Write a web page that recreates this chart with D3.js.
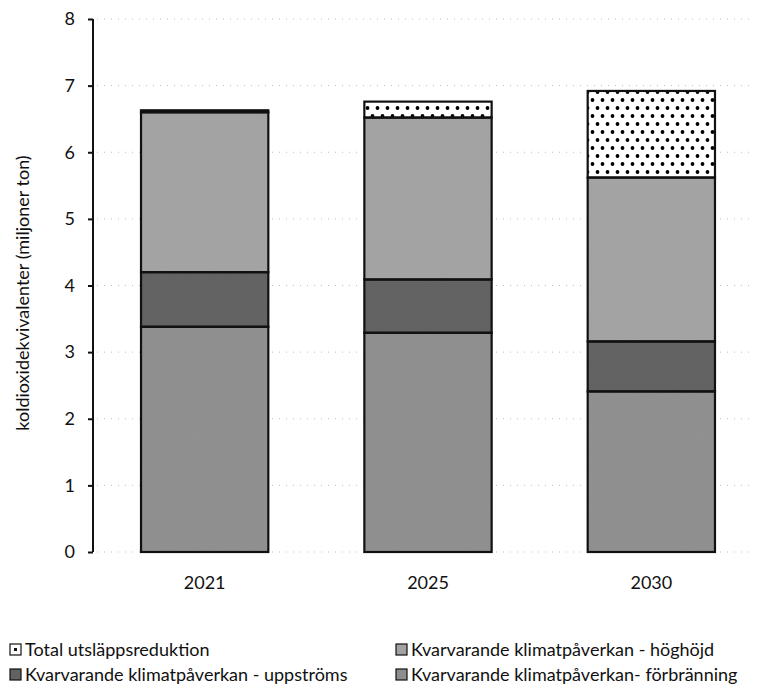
<!DOCTYPE html>
<html>
<head>
<meta charset="utf-8">
<script src="https://cdn.jsdelivr.net/npm/d3@7"></script>
<style>
  body { margin: 0; background: #fff; }
  text { font-family: Lato, "Noto Sans", sans-serif; fill: #111; }
</style>
</head>
<body>
<div id="chart"></div>
<script>
// data (miljoner ton CO2e)
var years = ['2021', '2025', '2030'];
var forbranning = [3.38, 3.29, 2.41];
var uppstroms = [0.82, 0.80, 0.75];
var hoghojd = [2.40, 2.43, 2.46];
var reduktion = [0.03, 0.24, 1.30];
var yTicks = [0, 1, 2, 3, 4, 5, 6, 7, 8];

// stacking order bottom -> top
var keys = ['forbranning', 'uppstroms', 'hoghojd', 'reduktion'];
var fills = {
  forbranning: '#8e8e8e',
  uppstroms: '#626262',
  hoghojd: '#a2a2a2',
  reduktion: 'url(#dots)'
};
var legendItems = [ // [key, label, col, row]
  ['reduktion', 'Total utsläppsreduktion', 0, 0],
  ['hoghojd', 'Kvarvarande klimatpåverkan - höghöjd', 1, 0],
  ['uppstroms', 'Kvarvarande klimatpåverkan - uppströms', 0, 1],
  ['forbranning', 'Kvarvarande klimatpåverkan- förbränning', 1, 1]
];

var rows = years.map(function (y, i) {
  return { year: y, forbranning: forbranning[i], uppstroms: uppstroms[i], hoghojd: hoghojd[i], reduktion: reduktion[i] };
});

var W = 760, H = 691;
var x0 = 93, x1 = 763, yTop = 19, yBottom = 552;

var svg = d3.select('#chart').append('svg')
  .attr('width', W).attr('height', H);

var defs = svg.append('defs');
var pat = defs.append('pattern')
  .attr('id', 'dots').attr('patternUnits', 'userSpaceOnUse')
  .attr('width', 10).attr('height', 16);
pat.append('rect').attr('width', 10).attr('height', 16).attr('fill', '#fff');
pat.append('circle').attr('cx', 2.5).attr('cy', 4).attr('r', 1.9).attr('fill', '#000');
pat.append('circle').attr('cx', 7.5).attr('cy', 12).attr('r', 1.9).attr('fill', '#000');

// scan grain on the grey fills
var grain = defs.append('filter').attr('id', 'grain')
  .attr('x', 0).attr('y', 0).attr('width', 1).attr('height', 1);
grain.append('feTurbulence').attr('type', 'fractalNoise')
  .attr('baseFrequency', 0.95).attr('numOctaves', 1).attr('seed', 3).attr('result', 'noise');
grain.append('feColorMatrix').attr('in', 'noise').attr('type', 'matrix')
  .attr('values', '0 0 0 0 0.55  0 0 0 0 0.55  0 0 0 0 0.55  0.9 0 0 0 -0.25')
  .attr('result', 'speck');
grain.append('feComposite').attr('in', 'speck').attr('in2', 'SourceGraphic')
  .attr('operator', 'in').attr('result', 'speckIn');
grain.append('feBlend').attr('in', 'speckIn').attr('in2', 'SourceGraphic').attr('mode', 'overlay');

var x = d3.scaleBand()
  .domain(years)
  .range([x0, x1])
  .paddingInner(0.43)
  .paddingOuter(0.215);

var y = d3.scaleLinear()
  .domain([0, 8])
  .range([yBottom, yTop]);

// faint scanned gridlines
svg.append('g')
  .selectAll('line')
  .data(yTicks)
  .enter().append('line')
  .attr('x1', x0 + 4).attr('x2', 752)
  .attr('y1', function (d) { return y(d); })
  .attr('y2', function (d) { return y(d); })
  .attr('stroke', '#bbb')
  .attr('stroke-width', 1)
  .attr('stroke-dasharray', '1,6');

// y axis
var yAxis = d3.axisLeft(y)
  .tickValues(yTicks)
  .tickSize(5)
  .tickPadding(13)
  .tickFormat(d3.format('d'));

var gy = svg.append('g')
  .attr('transform', 'translate(' + x0 + ',0)')
  .call(yAxis);
gy.select('.domain').attr('stroke', '#111').attr('stroke-width', 2).attr('d', 'M0,' + yTop + 'V' + yBottom);
gy.selectAll('.tick line').attr('stroke', '#111').attr('stroke-width', 2);
gy.selectAll('.tick text').style('font-size', '18px').attr('fill', '#111');

svg.append('text')
  .attr('transform', 'translate(29,' + 293 + ') rotate(-90)')
  .attr('text-anchor', 'middle')
  .style('font-size', '18px')
  .text('koldioxidekvivalenter (miljoner ton)');

// x labels
var xAxis = d3.axisBottom(x).tickSize(0).tickPadding(24);
var gx = svg.append('g')
  .attr('transform', 'translate(0,' + yBottom + ')')
  .call(xAxis);
gx.select('.domain').remove();
gx.selectAll('.tick text').style('font-size', '18px').attr('fill', '#111');

// stacked bars
var series = d3.stack().keys(keys)(rows);

svg.append('g')
  .selectAll('g')
  .data(series)
  .enter().append('g')
  .attr('fill', function (d) { return fills[d.key]; })
  .attr('filter', function (d) { return d.key === 'reduktion' ? null : 'url(#grain)'; })
  .selectAll('rect')
  .data(function (d) { return d; })
  .enter().append('rect')
  .attr('x', function (d) { return x(d.data.year); })
  .attr('y', function (d) { return y(d[1]); })
  .attr('width', x.bandwidth())
  .attr('height', function (d) { return y(d[0]) - y(d[1]); });

// outlines drawn on top so the grain does not soften them
svg.append('g')
  .selectAll('g')
  .data(series)
  .enter().append('g')
  .selectAll('rect')
  .data(function (d) { return d; })
  .enter().append('rect')
  .attr('x', function (d) { return x(d.data.year); })
  .attr('y', function (d) { return y(d[1]); })
  .attr('width', x.bandwidth())
  .attr('height', function (d) { return y(d[0]) - y(d[1]); })
  .attr('fill', 'none')
  .attr('stroke', '#111')
  .attr('stroke-width', 2.2);

// legend
var lg = svg.append('g');
var legendCols = [10, 396], legendRows = [656, 681];
legendItems.forEach(function (it) {
  var g = lg.append('g')
    .attr('transform', 'translate(' + legendCols[it[2]] + ',' + legendRows[it[3]] + ')');
  g.append('rect')
    .attr('x', 0).attr('y', -12)
    .attr('width', 11).attr('height', 11)
    .attr('fill', it[0] === 'reduktion' ? '#fff' : fills[it[0]])
    .attr('stroke', '#111').attr('stroke-width', 1.2);
  if (it[0] === 'reduktion') {
    g.append('rect').attr('x', 4).attr('y', -8).attr('width', 3).attr('height', 3).attr('fill', '#111');
  }
  g.append('text')
    .attr('x', 15).attr('y', 0)
    .style('font-size', '18px')
    .text(it[1]);
});
</script>
</body>
</html>
